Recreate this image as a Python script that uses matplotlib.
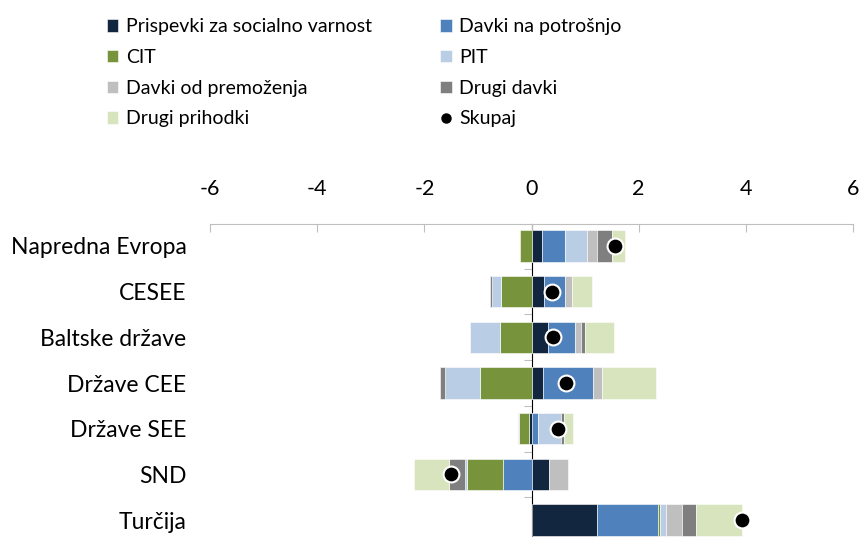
import numpy as np
import matplotlib
matplotlib.use('Agg')
import matplotlib.pyplot as plt
from matplotlib.lines import Line2D

plt.rcParams['font.family'] = ['Lato', 'DejaVu Sans']
plt.rcParams['axes.unicode_minus'] = False

# regions, top to bottom
regions = ['Napredna Evropa', 'CESEE', 'Baltske države', 'Države CEE',
           'Države SEE', 'SND', 'Turčija']

# components (same order as the stacking)
names = ['Prispevki za socialno varnost', 'Davki na potrošnjo', 'CIT', 'PIT',
         'Davki od premoženja', 'Drugi davki', 'Drugi prihodki']
social = [0.19, 0.24, 0.31, 0.22, -0.04, 0.33, 1.23]
potrosnja = [0.43, 0.38, 0.51, 0.93, 0.13, -0.53, 1.13]
cit = [-0.22, -0.57, -0.58, -0.96, -0.19, -0.68, 0.03]
pit = [0.42, -0.17, -0.56, -0.66, 0.42, -0.04, 0.12]
premozenje = [0.18, 0.13, 0.10, 0.16, -0.03, 0.36, 0.30]
drugi_davki = [0.28, -0.04, 0.07, -0.09, 0.05, -0.29, 0.26]
drugi_prihodki = [0.25, 0.38, 0.55, 1.02, 0.17, -0.65, 0.85]
skupaj = [1.55, 0.38, 0.41, 0.65, 0.50, -1.50, 3.92]

colors = ['#13263f', '#4f81bd', '#77933c', '#b9cde5',
          '#bfbfbf', '#7f7f7f', '#d7e4bd']

series = [social, potrosnja, cit, pit, premozenje, drugi_davki, drugi_prihodki]

fig = plt.figure(figsize=(8.64, 5.37), dpi=100)
ax = fig.add_axes([210 / 864, 0, 643 / 864, 313 / 537])

y = np.arange(len(regions))
pos_base = np.zeros(len(regions))
neg_base = np.zeros(len(regions))
handles = []
for vals, name, c in zip(series, names, colors):
    v = np.array(vals)
    left = np.where(v >= 0, pos_base, neg_base)
    h = ax.barh(y, v, left=left, height=0.69, color=c, label=name,
                edgecolor='white', linewidth=0.4)
    handles.append(h)
    pos_base = pos_base + np.clip(v, 0, None)
    neg_base = neg_base + np.clip(v, None, 0)

ax.scatter(skupaj, y, s=130, color='black', edgecolor='white',
           linewidth=1.5, zorder=5)

ax.set_xlim(-6, 6)
ax.set_ylim(6.37, -0.48)
ax.set_xticks(np.arange(-6, 7, 2))
ax.xaxis.tick_top()
ax.tick_params(axis='x', direction='in', length=6, color='#bfbfbf',
               labelsize=15.5, pad=18)
ax.set_yticks(y)
ax.set_yticklabels(regions)
ax.tick_params(axis='y', length=0, labelsize=16.5, pad=17)
for s in ['left', 'right', 'bottom']:
    ax.spines[s].set_visible(False)
ax.spines['top'].set_color('#bfbfbf')

# category axis crossing at zero
sec = ax.secondary_yaxis(0.5)
sec.set_yticks(np.arange(0.5, len(regions) - 0.5, 1))
sec.tick_params(axis='y', direction='in', length=6, color='#bfbfbf',
                labelleft=False, labelright=False)
sec.spines['left'].set_color('#bfbfbf')

dot = Line2D([], [], marker='o', color='black', linestyle='none',
             markersize=6.5, label='Skupaj')
order = [handles[0], handles[2], handles[4], handles[6],
         handles[1], handles[3], handles[5], dot]
fig.legend(handles=order, labels=[h.get_label() for h in order],
           loc='upper left', bbox_to_anchor=(89 / 864, 1 - 1 / 537),
           ncol=2, frameon=False, fontsize=14, handlelength=0.6,
           handleheight=0.6, handletextpad=0.4, labelspacing=0.7,
           columnspacing=3.5)

fig.savefig('out.png', dpi=100)
